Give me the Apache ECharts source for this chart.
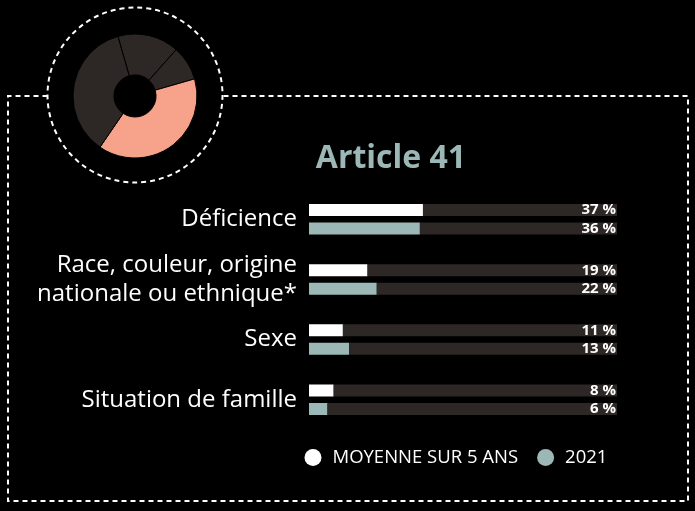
<!DOCTYPE html>
<html><head><meta charset="utf-8">
<script src="https://cdn.jsdelivr.net/npm/echarts@6/dist/echarts.min.js"></script>
<style>html,body{margin:0;padding:0;background:#000;}#c{width:695px;height:511px;}</style>
</head><body><div id="c"></div>
<script>
const categories = ['Déficience', 'Race, couleur, origine\nnationale ou ethnique*', 'Sexe', 'Situation de famille'];
const fiveYearAvg = [37, 19, 11, 8];
const year2021 = [36, 22, 13, 6];
const donutValues = [16, 9, 39, 36];
const seriesNames = ['MOYENNE SUR 5 ANS', '2021'];
const titleText = 'Article 41';

const TRACK = '#2d2725', TEAL = '#9bb8b6', PINK = '#f7a28a';
const FONT = 'Open Sans';
const chart = echarts.init(document.getElementById('c'));

function trackSeries(stack, vals) {
  return {
    type: 'bar', stack: stack, barWidth: 12, silent: true,
    data: vals.map(v => 100 - v),
    itemStyle: { color: TRACK },
    label: {
      show: true, position: 'insideRight', distance: 1,
      color: '#fff', fontFamily: FONT, fontWeight: 'bold', fontSize: 15,
      formatter: p => vals[p.dataIndex] + ' %'
    }
  };
}

chart.setOption({
  backgroundColor: '#000',
  animation: false,
  title: {
    text: titleText, left: 386, top: 138, textAlign: 'center',
    textStyle: { color: TEAL, fontFamily: FONT, fontWeight: 'bold', fontSize: 32 }
  },
  legend: {
    data: seriesNames, left: 304.5, top: 448, padding: 0, itemWidth: 17, itemHeight: 17, itemGap: 19,
    icon: 'circle',
    textStyle: { color: '#fff', fontFamily: FONT, fontSize: 18.5, padding: [0, 0, 0, 6] }
  },
  grid: { left: 309, right: 78, top: 189.3, bottom: 81.2 },
  xAxis: { type: 'value', min: 0, max: 100, show: false },
  yAxis: {
    type: 'category', inverse: true,
    data: categories.map((c, i) => i === 1 ? { value: c, textStyle: { padding: [0, 0, 8, 0] } } : c),
    axisLine: { show: false }, axisTick: { show: false },
    axisLabel: { color: '#fff', fontFamily: FONT, fontSize: 24, lineHeight: 29, margin: 12, align: 'right' }
  },
  series: [
    { name: seriesNames[0], type: 'bar', stack: 'a', barWidth: 12, data: fiveYearAvg, itemStyle: { color: '#fff' } },
    trackSeries('a', fiveYearAvg),
    { name: seriesNames[1], type: 'bar', stack: 'b', barWidth: 12, data: year2021, itemStyle: { color: TEAL } },
    Object.assign(trackSeries('b', year2021), { barGap: '54%' }),
    {
      type: 'pie', center: [135, 96], radius: [21, 62], startAngle: 106, clockwise: true,
      silent: true, label: { show: false }, labelLine: { show: false },
      itemStyle: { borderColor: '#000', borderWidth: 1 },
      data: donutValues.map((v, i) => ({ value: v, itemStyle: { color: i === 2 ? PINK : TRACK } }))
    }
  ],
  graphic: [
    {
      type: 'polyline', silent: true,
      shape: { points: [[47.5, 96], [8, 96], [8, 501], [688, 501], [688, 96], [222.5, 96]] },
      style: { stroke: '#fff', lineWidth: 2, lineDash: [5, 4], fill: null }
    },
    {
      type: 'circle', silent: true,
      shape: { cx: 135, cy: 95, r: 87.5 },
      style: { stroke: '#fff', lineWidth: 2, lineDash: [5, 4], fill: null }
    }
  ]
});
</script></body></html>
